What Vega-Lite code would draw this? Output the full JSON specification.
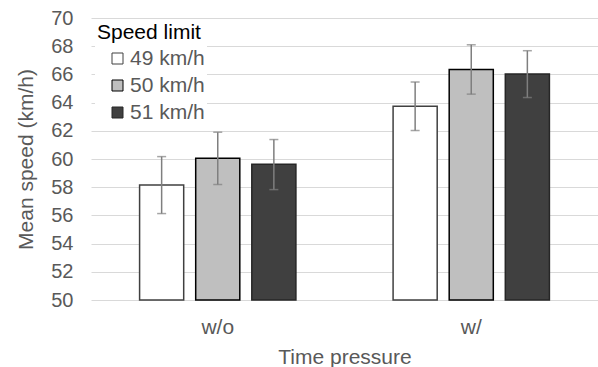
{
  "$schema": "https://vega.github.io/schema/vega-lite/v6.json",
  "width": 507,
  "height": 282,
  "autosize": "none",
  "padding": {"left": 91, "top": 18, "right": 0, "bottom": 67},
  "background": "white",
  "config": {
    "font": "Liberation Sans",
    "view": {"stroke": null},
    "axisY": {"labelOverlap": false, "domain": false, "ticks": false, "gridColor": "#d9d9d9", "gridWidth": 1, "labelFontSize": 20, "labelColor": "#595959", "labelPadding": 18, "titleFontSize": 21, "titleFontWeight": "normal", "titleColor": "#595959", "titlePadding": 14}
  },
  "data": {"values": [
    {"pressure": "w/o", "limit": "49 km/h", "mean": 58.15, "lo": 56.13, "hi": 60.17},
    {"pressure": "w/o", "limit": "50 km/h", "mean": 60.05, "lo": 58.19, "hi": 61.9},
    {"pressure": "w/o", "limit": "51 km/h", "mean": 59.62, "lo": 57.83, "hi": 61.38},
    {"pressure": "w/", "limit": "49 km/h", "mean": 63.74, "lo": 62.02, "hi": 65.46},
    {"pressure": "w/", "limit": "50 km/h", "mean": 66.34, "lo": 64.6, "hi": 68.1},
    {"pressure": "w/", "limit": "51 km/h", "mean": 66.02, "lo": 64.36, "hi": 67.68}
  ]},
  "encoding": {
    "x": {
      "field": "pressure", "type": "nominal", "sort": ["w/o", "w/"],
      "title": "Time pressure",
      "scale": {"paddingInner": 0, "paddingOuter": 0},
      "axis": {"domain": false, "ticks": false, "labelAngle": 0, "labelFontSize": 21, "labelColor": "#595959", "labelPadding": 16, "titleFontSize": 21, "titleFontWeight": "normal", "titleColor": "#595959", "titlePadding": 9}
    },
    "xOffset": {"field": "limit", "type": "nominal", "scale": {"paddingInner": 0.214, "paddingOuter": 0.866}}
  },
  "layer": [
    {
      "mark": {"type": "bar", "strokeWidth": 1.5},
      "encoding": {
        "y": {
          "field": "mean", "type": "quantitative", "title": "Mean speed (km/h)",
          "scale": {"domain": [50, 70]},
          "axis": {"values": [50, 52, 54, 56, 58, 60, 62, 64, 66, 68, 70], "labelOverlap": false}
        },
        "y2": {"datum": 50},
        "fill": {
          "field": "limit", "type": "nominal", "title": "Speed limit",
          "scale": {"domain": ["49 km/h", "50 km/h", "51 km/h"], "range": ["#ffffff", "#bfbfbf", "#404040"]},
          "legend": {"orient": "none", "legendX": 4, "legendY": 2, "fillColor": "white", "padding": 2, "titleFontSize": 21, "titleFontWeight": "normal", "titleColor": "black", "labelFontSize": 21, "labelColor": "#595959", "symbolType": "square", "symbolSize": 121, "symbolStrokeWidth": 1, "symbolOffset": 10, "rowPadding": 5, "titlePadding": 5, "labelOffset": 2}
        },
        "stroke": {
          "field": "limit", "type": "nominal", "title": "Speed limit",
          "scale": {"domain": ["49 km/h", "50 km/h", "51 km/h"], "range": ["#404040", "#000000", "#262626"]}
        }
      }
    },
    {
      "mark": {"type": "rule", "color": "#7f7f7f", "strokeWidth": 1.5},
      "encoding": {
        "y": {"field": "lo", "type": "quantitative", "title": "Mean speed (km/h)", "axis": {"values": [50, 52, 54, 56, 58, 60, 62, 64, 66, 68, 70], "labelOverlap": false}},
        "y2": {"field": "hi"}
      }
    },
    {
      "mark": {"type": "tick", "color": "#7f7f7f", "thickness": 1.5, "size": 9},
      "encoding": {"y": {"field": "lo", "type": "quantitative", "title": "Mean speed (km/h)", "axis": {"values": [50, 52, 54, 56, 58, 60, 62, 64, 66, 68, 70], "labelOverlap": false}}}
    },
    {
      "mark": {"type": "tick", "color": "#7f7f7f", "thickness": 1.5, "size": 9},
      "encoding": {"y": {"field": "hi", "type": "quantitative", "title": "Mean speed (km/h)", "axis": {"values": [50, 52, 54, 56, 58, 60, 62, 64, 66, 68, 70], "labelOverlap": false}}}
    }
  ]
}
